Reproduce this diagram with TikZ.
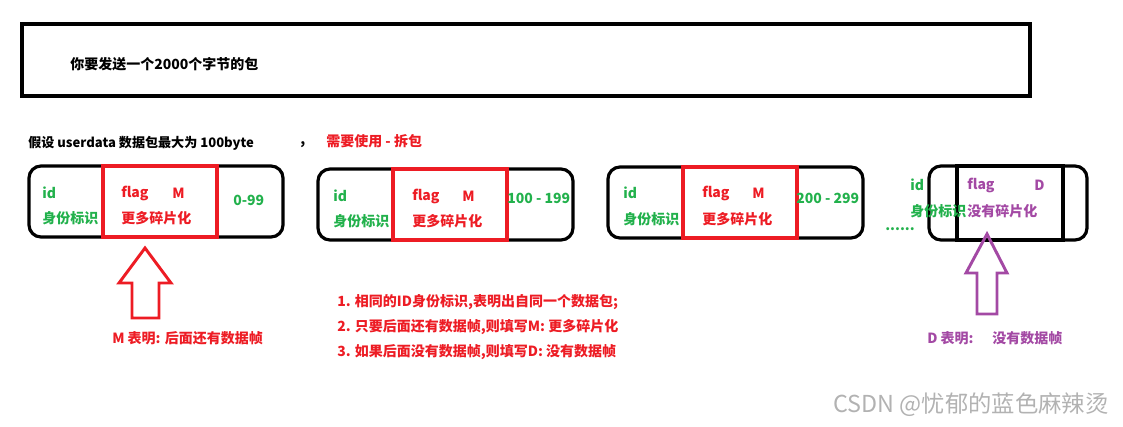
\documentclass[tikz,border=0pt]{standalone}
\usepackage{fontspec}
\setmainfont{Noto Sans CJK SC}
\definecolor{pgreen}{RGB}{34,177,76}
\definecolor{pred}{RGB}{237,28,36}
\definecolor{ppurple}{RGB}{163,73,164}
\begin{document}
\begin{tikzpicture}[x=0.75pt,y=-0.75pt,
  txt/.style={anchor=west,inner sep=0pt,font=\fontsize{10.5pt}{12pt}\selectfont\bfseries},
  gtxt/.style={txt,text=pgreen},
  rtxt/.style={txt,text=pred},
  ptxt/.style={txt,text=ppurple},
  ktxt/.style={txt,text=black},
  pkt/.style={draw=black,line width=2.4pt,rounded corners=9pt},
  flagbox/.style={draw=pred,line width=2.5pt},
  blkarrow/.style={line width=2.2pt,line join=miter}
]
\useasboundingbox (0,0) rectangle (1123,426);
% top box
\draw[line width=2.8pt] (22,24) rectangle (1030,96);
\node[ktxt] (title) at (70,64) {你要发送一个2000个字节的包};
% header line
\node[ktxt,font=\fontsize{9.8pt}{12pt}\selectfont\bfseries] (assume) at (28,143) {假设 userdata 数据包最大为 100byte};
\node[ktxt] (comma) at (300,145) {,};
\node[rtxt] (need) at (326,141) {需要使用 - 拆包};
% packet 1
\draw[pkt] (29,166) rectangle (283,237);
\draw[flagbox] (103,166) rectangle (217,237);
\node[gtxt] (id1) at (42,193) {id};
\node[gtxt] (sid1) at (42,218) {身份标识};
\node[rtxt] (flag1) at (121,193) {flag};
\node[rtxt] (m1) at (172,193) {M};
\node[rtxt] (more1) at (121,218) {更多碎片化};
\node[gtxt] (rng1) at (233,200) {0-99};
% packet 2
\draw[pkt] (318,169) rectangle (573,240);
\draw[flagbox] (393,169) rectangle (507,240);
\node[gtxt] (id2) at (333,196) {id};
\node[gtxt] (sid2) at (333,221) {身份标识};
\node[rtxt] (flag2) at (412,196) {flag};
\node[rtxt] (m2) at (462,196) {M};
\node[rtxt] (more2) at (412,221) {更多碎片化};
\node[gtxt] (rng2) at (507,198) {100 - 199};
% packet 3
\draw[pkt] (608,167) rectangle (863,238);
\draw[flagbox] (683,167) rectangle (797,238);
\node[gtxt] (id3) at (623,193) {id};
\node[gtxt] (sid3) at (623,219) {身份标识};
\node[rtxt] (flag3) at (702,193) {flag};
\node[rtxt] (m3) at (752,193) {M};
\node[rtxt] (more3) at (702,219) {更多碎片化};
\node[gtxt] (rng3) at (796,198) {200 - 299};
\node[gtxt] (dots) at (885,229) {......};
% packet 4
\draw[pkt] (929,166) rectangle (1087,240);
\draw[line width=2.4pt] (957,166) rectangle (1063,240);
\node[gtxt] (id4) at (910,185) {id};
\node[gtxt] (sid4) at (910,211) {身份标识};
\node[ptxt] (flag4) at (967,185) {flag};
\node[ptxt] (d4) at (1034,185) {D};
\node[ptxt] (none4) at (967,211) {没有碎片化};
% red arrow
\draw[blkarrow,draw=pred] (145,248) -- (171,283) -- (159,283) -- (159,318) -- (132,318) -- (132,283) -- (119,283) -- cycle;
\node[rtxt] (mnote) at (112,338) {M 表明: 后面还有数据帧};
% list
\node[rtxt] (l1) at (337,302) {1. 相同的ID身份标识,表明出自同一个数据包;};
\node[rtxt] (l2) at (337,327) {2. 只要后面还有数据帧,则填写M: 更多碎片化};
\node[rtxt] (l3) at (337,352) {3. 如果后面没有数据帧,则填写D: 没有数据帧};
% purple arrow
\draw[blkarrow,draw=ppurple] (987,234) -- (1007,273) -- (997,273) -- (997,314) -- (977,314) -- (977,273) -- (966,273) -- cycle;
\node[ptxt] (dnote) at (927,338) {D 表明:};
\node[ptxt] (dnote2) at (992,338) {没有数据帧};
% watermark
\node[anchor=west,inner sep=0pt,text=black!30,font=\fontsize{17.5pt}{20pt}\selectfont] (wm) at (833,405) {CSDN @忧郁的蓝色麻辣烫};
\end{tikzpicture}
\end{document}
